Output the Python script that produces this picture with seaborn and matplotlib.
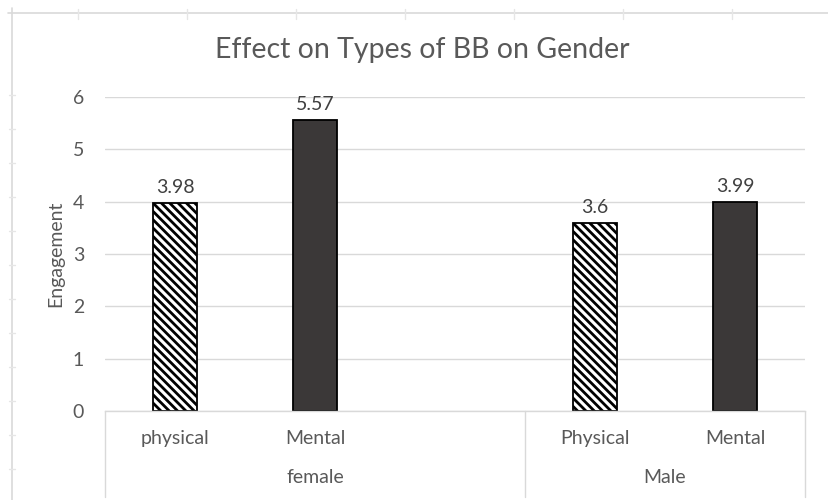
import matplotlib
matplotlib.use("Agg")
import matplotlib.pyplot as plt
import matplotlib.transforms as mtransforms
from matplotlib.lines import Line2D
import pandas as pd
import seaborn as sns

# ---- data -------------------------------------------------------------
genders = ["female", "female", "Male", "Male"]
kinds = ["physical", "Mental", "Physical", "Mental"]
bb_type = ["Physical", "Mental", "Physical", "Mental"]
engagement = [3.98, 5.57, 3.6, 3.99]

# category slots on the two-level axis (female has an unlabeled third slot)
slot_gender = ["female", "female", "female", "Male", "Male"]
slot_kind = ["physical", "Mental", "", "Physical", "Mental"]
group_names = ["female", "Male"]

df = pd.DataFrame({
    "gender": genders,
    "kind": kinds,
    "type": bb_type,
    "engagement": engagement,
})
df["slot"] = df["gender"] + "|" + df["kind"]
slot_order = [g + "|" + k for g, k in zip(slot_gender, slot_kind)]

# ---- style ------------------------------------------------------------
sns.set_theme(style="white")
plt.rcParams["font.family"] = ["Lato", "DejaVu Sans"]
plt.rcParams["hatch.linewidth"] = 2.0
plt.rcParams["hatch.color"] = "black"

TEXT = "#595959"
GRID = "#d9d9d9"
SMALL = 14

fig = plt.figure(figsize=(8.29, 5.0), dpi=100)
W, H = 829, 500
ax = fig.add_axes([105 / W, 1 - 411 / H, 700 / W, 314 / H])

phys = df[df["type"] == "Physical"]
ment = df[df["type"] == "Mental"]

sns.barplot(data=phys, x="slot", y="engagement", order=slot_order,
            color="white", edgecolor="black", linewidth=1.3,
            width=0.32, ax=ax, errorbar=None, saturation=1)
sns.barplot(data=ment, x="slot", y="engagement", order=slot_order,
            color="#3b3838", edgecolor="black", linewidth=1.3,
            width=0.32, ax=ax, errorbar=None, saturation=1)

# hatch the physical bars
for bar in ax.containers[0]:
    bar.set_hatch("\\\\\\\\")

# value labels
for cont, sub in zip(ax.containers, [phys, ment]):
    ax.bar_label(cont, labels=[f"{v:g}" for v in sub["engagement"]],
                 padding=5, fontsize=SMALL, color="#404040")

ax.set_xlim(-0.5, len(slot_order) - 0.5)
ax.set_ylim(0, 6)
ax.set_yticks(range(0, 7))
ax.yaxis.grid(True, color=GRID, linewidth=1.0)
ax.set_axisbelow(True)
for s in ["top", "right", "left"]:
    ax.spines[s].set_visible(False)
ax.spines["bottom"].set_color(GRID)
ax.spines["bottom"].set_linewidth(1.0)

ax.tick_params(axis="y", length=0, pad=15, labelsize=SMALL, labelcolor=TEXT)
ax.tick_params(axis="x", length=0, pad=14, labelsize=SMALL, labelcolor=TEXT)
ax.set_xticks(range(len(slot_order)))
ax.set_xticklabels(slot_kind)
ax.set_xlabel("")
ax.set_ylabel("Engagement", fontsize=SMALL, color=TEXT, labelpad=6)

# two-level category axis: separators and group labels
trans = mtransforms.blended_transform_factory(ax.transData, ax.transAxes)
bounds = [-0.5]
for i in range(1, len(slot_gender)):
    if slot_gender[i] != slot_gender[i - 1]:
        bounds.append(i - 0.5)
bounds.append(len(slot_gender) - 0.5)
for b in bounds:
    ax.add_line(Line2D([b, b], [0, -0.274], transform=trans, color=GRID,
                       linewidth=1.0, clip_on=False))
for g in group_names:
    idx = [i for i, s in enumerate(slot_gender) if s == g]
    ax.text((idx[0] + idx[-1]) / 2, -0.213, g, transform=trans,
            ha="center", va="center", fontsize=SMALL, color=TEXT)

fig.text(422 / W, 1 - 50 / H, "Effect on Types of BB on Gender",
         ha="center", va="center", fontsize=20.5, color=TEXT)

# outer chart frame with faint ruler ticks
fig.add_artist(Line2D([8 / W, 1], [1 - 13 / H] * 2, color=GRID, lw=1.2,
                      transform=fig.transFigure))
fig.add_artist(Line2D([12 / W] * 2, [0, 1 - 8 / H], color=GRID, lw=1.2,
                      transform=fig.transFigure))
for x in range(78, 829, 109):
    fig.add_artist(Line2D([x / W] * 2, [1 - 9 / H, 1 - 19 / H], color="#e6e6e6",
                          lw=1.0, transform=fig.transFigure))
for y in range(95, 500, 34):
    fig.add_artist(Line2D([9 / W, 15 / W], [1 - y / H] * 2, color="#e6e6e6",
                          lw=1.0, transform=fig.transFigure))

fig.savefig("out.png", dpi=100, facecolor="white")
